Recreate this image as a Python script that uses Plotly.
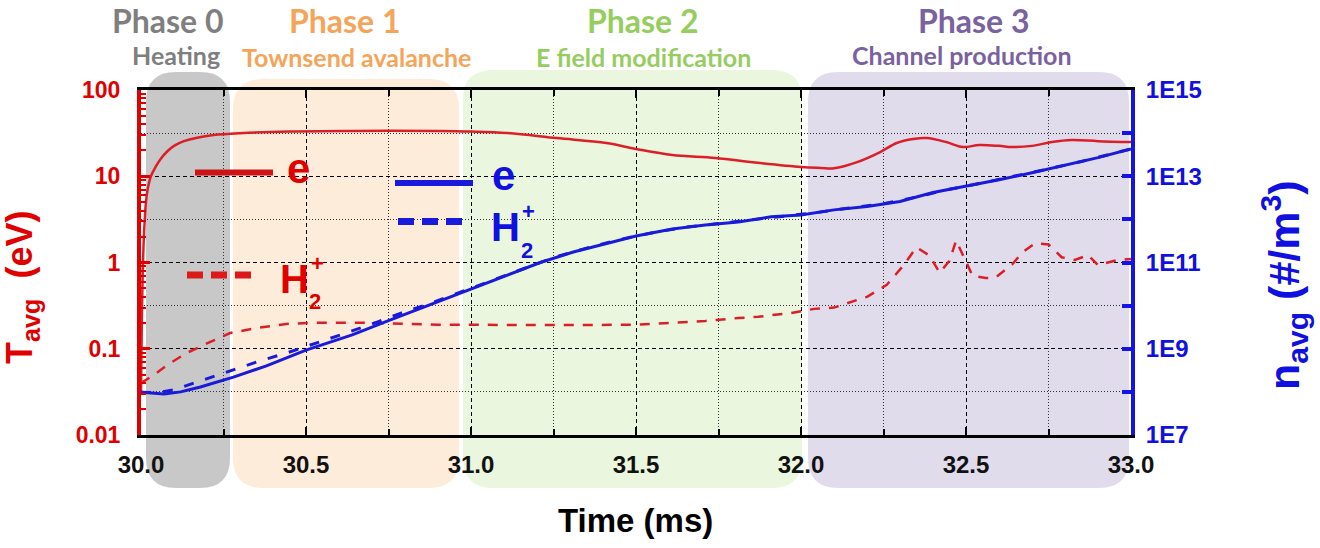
import plotly.graph_objects as go

# ---------------- data ----------------
t_Te = [30.000, 30.003, 30.006, 30.010, 30.015, 30.020, 30.030, 30.045, 30.06, 30.08,
        30.10, 30.13, 30.17, 30.22, 30.30, 30.45, 30.65, 30.90, 31.00, 31.11,
        31.26, 31.41, 31.50, 31.61, 31.74, 31.87, 32.00, 32.06, 32.10, 32.17,
        32.24, 32.29, 32.34, 32.38, 32.44, 32.49, 32.54, 32.60, 32.64, 32.70,
        32.76, 32.82, 32.90, 33.00]
Te = [0.03, 0.3, 1.0, 2.5, 5.0, 7.0, 10, 13, 16, 19.5,
      22.5, 25.5, 28, 30, 31.5, 33, 33.5, 33.5, 33, 31.7,
      27.7, 24.3, 20.7, 17.6, 16.3, 14.3, 12.8, 12.5, 12.4, 14.6,
      19.1, 24.3, 27, 27.7, 24.9, 21.8, 23.0, 22.5, 21.8, 22.5,
      24.9, 26.3, 25.5, 24.9]

t_Ti = [30.00, 30.04, 30.08, 30.14, 30.21, 30.27, 30.35, 30.44, 30.52, 30.70,
        30.90, 31.10, 31.30, 31.50, 31.61, 31.71, 31.81, 31.87, 31.97, 32.04,
        32.10, 32.20, 32.26, 32.31, 32.35, 32.39, 32.42, 32.45, 32.47, 32.50,
        32.52, 32.56, 32.59, 32.64, 32.67, 32.71, 32.75, 32.79, 32.83, 32.87,
        32.90, 32.93, 32.96, 33.00]
Ti = [0.04, 0.05, 0.065, 0.09, 0.12, 0.152, 0.174, 0.194, 0.2, 0.2,
      0.19, 0.188, 0.188, 0.19, 0.2, 0.21, 0.227, 0.235, 0.26, 0.29,
      0.3, 0.4, 0.55, 0.92, 1.5, 1.2, 0.76, 1.05, 1.8, 1.0,
      0.7, 0.66, 0.67, 0.95, 1.3, 1.68, 1.62, 1.15, 1.07, 1.22,
      0.93, 1.0, 1.07, 1.1]

t_ne = [30.00, 30.03, 30.07, 30.12, 30.18, 30.28, 30.38, 30.50, 30.64, 30.75,
        30.89, 31.01, 31.11, 31.21, 31.31, 31.41, 31.50, 31.61, 31.71, 31.81,
        31.91, 32.00, 32.10, 32.20, 32.30, 32.40, 32.50, 32.60, 32.70, 32.80,
        32.90, 33.00]
ne = [9.8e7, 9.3e7, 8.9e7, 1.0e8, 1.3e8, 2.2e8, 4.0e8, 9.3e8, 2.1e9, 4.5e9,
      1.15e10, 2.6e10, 5.1e10, 1.0e11, 1.75e11, 2.8e11, 4.1e11, 6.0e11, 7.4e11, 8.7e11,
      1.15e12, 1.26e12, 1.66e12, 2.0e12, 2.6e12, 4.2e12, 5.8e12, 8.3e12, 1.2e13, 1.8e13,
      2.7e13, 4.3e13]

t_ni = [30.00, 30.05, 30.10, 30.18, 30.28, 30.36, 30.44, 30.54, 30.62, 30.71,
        30.79, 30.88, 30.96, 31.05, 31.15, 31.25, 31.35, 31.45, 31.55, 31.65,
        31.75, 31.85, 31.95, 32.05, 32.15, 32.25, 32.35, 32.45, 32.55, 32.65,
        32.75, 32.85, 32.95, 33.00]
ni = [9.8e7, 9.6e7, 1.12e8, 1.8e8, 3.2e8, 5.2e8, 7.9e8, 1.4e9, 2.3e9, 4.0e9,
      6.8e9, 1.15e10, 1.95e10, 3.5e10, 6.8e10, 1.3e11, 2.15e11, 3.4e11, 4.9e11, 6.6e11,
      8.0e11, 9.7e11, 1.2e12, 1.45e12, 1.85e12, 2.3e12, 3.3e12, 5.0e12, 7.0e12, 1.0e13,
      1.48e13, 2.2e13, 3.45e13, 4.3e13]

x_ticks = [30.0, 30.5, 31.0, 31.5, 32.0, 32.5, 33.0]
x_tick_text = ["30.0", "30.5", "31.0", "31.5", "32.0", "32.5", "33.0"]
x_minor = [30.25, 30.75, 31.25, 31.75, 32.25, 32.75]
T_ticks = [0.01, 0.1, 1, 10, 100]
T_tick_text = ["0.01", "0.1", "1", "10", "100"]
T_minor = [k * 10.0 ** d for d in range(-2, 2) for k in range(2, 10)]
n_ticks = [1e7, 1e9, 1e11, 1e13, 1e15]
n_tick_text = ["1E7", "1E9", "1E11", "1E13", "1E15"]
n_minor = [1e8, 1e10, 1e12, 1e14]

phase_titles = ["Phase 0", "Phase 1", "Phase 2", "Phase 3"]
phase_notes = ["Heating", "Townsend avalanche", "E field modification", "Channel production"]

# ---------------- styling / layout helpers ----------------
W, H = 1320, 548
L, R, T, B = 141, 1131, 90, 435
RED = "#dc1e28"
RED_TXT = "#e00000"
BLUE = "#1a1adc"
BLUE_TXT = "#1010e0"
SANS = "Liberation Sans, Arial"


def px(x):
    return (x - L) / (R - L)


def py(y):
    return (B - y) / (B - T)


def rounded(x0, y0, x1, y1, r):
    pts = [
        ("M", [(x0 + r, y0)]), ("L", [(x1 - r, y0)]), ("Q", [(x1, y0), (x1, y0 + r)]),
        ("L", [(x1, y1 - r)]), ("Q", [(x1, y1), (x1 - r, y1)]), ("L", [(x0 + r, y1)]),
        ("Q", [(x0, y1), (x0, y1 - r)]), ("L", [(x0, y0 + r)]), ("Q", [(x0, y0), (x0 + r, y0)]),
    ]
    s = ""
    for cmd, ps in pts:
        s += cmd + " " + " ".join(f"{px(a):.5f},{py(b):.5f}" for a, b in ps) + " "
    return s + "Z"


box_px = [(146, 72, 230, 488), (233, 79, 459, 488), (463, 70, 802, 488), (808, 72, 1129, 488)]
box_colors = ["#c8c8c8", "#fdecda", "#eaf6dd", "#e0dcec"]
phase_colors = ["#7f7f7f", "#f4a55a", "#96cd5f", "#7a61a0"]
title_pos = [(168, 20), (345, 20), (643, 20), (974, 20)]
note_pos = [(176, 55), (356, 57), (643, 57), (962, 55)]

fig = go.Figure()

fig.add_trace(go.Scatter(x=t_Te, y=Te, mode="lines", line=dict(color=RED, width=2.5),
                         yaxis="y", showlegend=False, line_shape="spline"))
fig.add_trace(go.Scatter(x=t_Ti, y=Ti, mode="lines", line=dict(color=RED, width=2.5, dash="10px,9px"),
                         yaxis="y", showlegend=False))
fig.add_trace(go.Scatter(x=t_ni, y=ni, mode="lines", line=dict(color=BLUE, width=3, dash="10px,12px"),
                         yaxis="y2", showlegend=False))
fig.add_trace(go.Scatter(x=t_ne, y=ne, mode="lines", line=dict(color=BLUE, width=3),
                         yaxis="y2", showlegend=False))

shapes = []
for (x0, y0, x1, y1), c in zip(box_px, box_colors):
    shapes.append(dict(type="path", xref="paper", yref="paper", path=rounded(x0, y0, x1, y1, 30),
                       fillcolor=c, line=dict(width=0), layer="below"))


def seg(x0, x1, y, color, width, dash=None):
    ln = dict(color=color, width=width)
    if dash:
        ln["dash"] = dash
    return dict(type="line", xref="paper", yref="paper", x0=px(x0), x1=px(x1), y0=py(y), y1=py(y),
                line=ln, layer="above")


shapes += [
    seg(195, 273, 172.5, "#cc1418", 6),
    seg(187, 252, 275, "#dd1a1a", 7, "16px,8px"),
    seg(395, 473, 183, BLUE, 6),
    seg(398, 462, 221.5, BLUE, 7, "16px,8px"),
]

annotations = []


def lab(text, x, y, size, color, family=SANS, angle=0):
    return dict(text=f"<b>{text}</b>", x=px(x), y=py(y), xref="paper", yref="paper", showarrow=False,
                xanchor="center", yanchor="middle", textangle=angle, borderpad=0,
                font=dict(family=family, size=size, color=color))


for txt, c, (x, y) in zip(phase_titles, phase_colors, title_pos):
    annotations.append(lab(txt, x, y, 32, c, family="Lato"))
for txt, c, (x, y) in zip(phase_notes, phase_colors, note_pos):
    annotations.append(lab(txt, x, y, 25, c, family="Lato"))

annotations += [
    lab("e", 298, 168, 42, RED_TXT),
    lab("H", 294.5, 279, 40, RED_TXT),
    lab("2", 315, 301, 22, RED_TXT),
    lab("+", 317.5, 263, 22, RED_TXT),
    lab("e", 503, 175, 42, BLUE_TXT),
    lab("H", 505, 227, 40, BLUE_TXT),
    lab("2", 526.5, 250.5, 22, BLUE_TXT),
    lab("+", 528, 211, 22, BLUE_TXT),
    lab("T<sub>avg</sub>  (eV)", 22, 288, 36, RED_TXT, angle=-90),
    lab("n<sub>avg</sub> (#/m<sup>3</sup>)", 1284, 285, 43, BLUE_TXT, angle=-90),
    lab("Time (ms)", 635, 520, 33, "black"),
]

fig.update_layout(
    width=W, height=H,
    margin=dict(l=L, r=W - R, t=T, b=H - B, pad=0),
    paper_bgcolor="white", plot_bgcolor="rgba(0,0,0,0)",
    shapes=shapes, annotations=annotations,
    xaxis=dict(range=[30, 33], tickvals=x_ticks, ticktext=x_tick_text,
               showline=True, linecolor="black", linewidth=3, mirror="ticks",
               ticks="inside", ticklen=8, tickwidth=2, tickcolor="black",
               showgrid=True, gridcolor="black", gridwidth=1, griddash="4px,3px",
               zeroline=False, ticklabelstandoff=6,
               tickfont=dict(family=SANS, size=24, color="#111111", weight="bold"),
               minor=dict(tickvals=x_minor, ticks="inside", ticklen=6, tickwidth=1.5, tickcolor="black",
                          showgrid=True, gridcolor="#333333", gridwidth=1, griddash="1px,2px")),
    yaxis=dict(type="log", range=[-2, 2], tickvals=T_ticks, ticktext=T_tick_text,
               showline=True, linecolor="#e00000", linewidth=4,
               ticks="inside", ticklen=9, tickwidth=3, tickcolor="#e00000",
               showgrid=True, gridcolor="black", gridwidth=1, griddash="4px,3px",
               zeroline=False, ticklabelstandoff=12,
               tickfont=dict(family=SANS, size=23, color=RED_TXT, weight="bold"),
               minor=dict(tickvals=T_minor, ticks="inside", ticklen=5, tickwidth=2, tickcolor="#e00000",
                          showgrid=False)),
    yaxis2=dict(type="log", range=[7, 15], overlaying="y", side="right",
                tickvals=n_ticks, ticktext=n_tick_text,
                showline=True, linecolor="#1414e6", linewidth=4,
                ticks="inside", ticklen=9, tickwidth=4, tickcolor="#1414e6",
                showgrid=False, zeroline=False, ticklabelstandoff=6,
                tickfont=dict(family=SANS, size=24, color=BLUE_TXT, weight="bold"),
                minor=dict(tickvals=n_minor, ticks="inside", ticklen=9, tickwidth=4, tickcolor="#1414e6",
                           showgrid=True, gridcolor="#333333", gridwidth=1, griddash="1px,2px")),
)

fig.write_html("out.html", config={"displayModeBar": False},
               post_script="document.body.style.margin='0';")
